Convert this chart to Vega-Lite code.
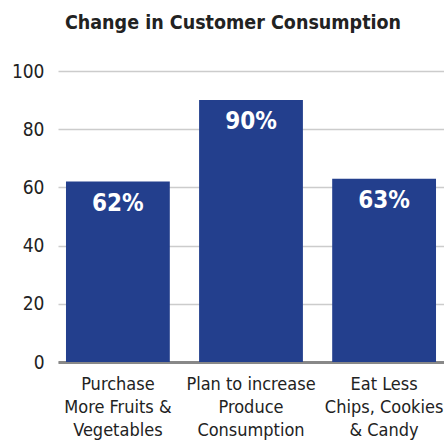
{
  "$schema": "https://vega.github.io/schema/vega-lite/v6.json",
  "width": 386,
  "height": 291,
  "autosize": {"type": "none"},
  "padding": {"left": 58, "top": 71, "right": 0, "bottom": 80},
  "background": "white",
  "title": {
    "text": "Change in Customer Consumption",
    "font": "DejaVu Sans Condensed, Liberation Sans, sans-serif",
    "fontSize": 19.5,
    "fontWeight": "bold",
    "color": "#222222",
    "anchor": "middle",
    "dx": -18,
    "offset": 29
  },
  "data": {
    "values": [
      {"category": "Purchase|More Fruits &|Vegetables", "value": 62, "label": "62%"},
      {"category": "Plan to increase|Produce|Consumption", "value": 90, "label": "90%"},
      {"category": "Eat Less|Chips, Cookies|& Candy", "value": 63, "label": "63%"}
    ]
  },
  "config": {
    "view": {"stroke": null},
    "font": "DejaVu Sans Condensed, Liberation Sans, sans-serif"
  },
  "encoding": {
    "x": {
      "field": "category",
      "type": "nominal",
      "sort": null,
      "scale": {"paddingInner": 0.22, "paddingOuter": 0.06},
      "axis": {
        "title": null,
        "labelAngle": 0,
        "labelExpr": "split(datum.value, '|')",
        "labelFont": "DejaVu Sans Condensed, Liberation Sans, sans-serif",
        "labelFontSize": 18,
        "labelColor": "#222222",
        "labelLineHeight": 23,
        "labelBaseline": "top",
        "labelPadding": 13,
        "ticks": false,
        "domainColor": "#888888",
        "domainWidth": 3
      }
    }
  },
  "layer": [
    {
      "mark": {"type": "bar", "color": "#233F8D"},
      "encoding": {
        "y": {
          "field": "value",
          "type": "quantitative",
          "scale": {"domain": [0, 100], "nice": false},
          "axis": {
            "title": null,
            "values": [0, 20, 40, 60, 80, 100],
            "domain": false,
            "ticks": false,
            "grid": true,
            "gridColor": "#cccccc",
            "gridWidth": 1.5,
            "labelFont": "DejaVu Sans Condensed, Liberation Sans, sans-serif",
            "labelFontSize": 19,
            "labelColor": "#222222",
            "labelPadding": 14
          }
        }
      }
    },
    {
      "mark": {
        "type": "text",
        "color": "white",
        "fontWeight": "bold",
        "fontSize": 24,
        "font": "DejaVu Sans Condensed, Liberation Sans, sans-serif",
        "baseline": "top",
        "dy": 10
      },
      "encoding": {
        "y": {"field": "value", "type": "quantitative"},
        "text": {"field": "label"}
      }
    }
  ]
}
